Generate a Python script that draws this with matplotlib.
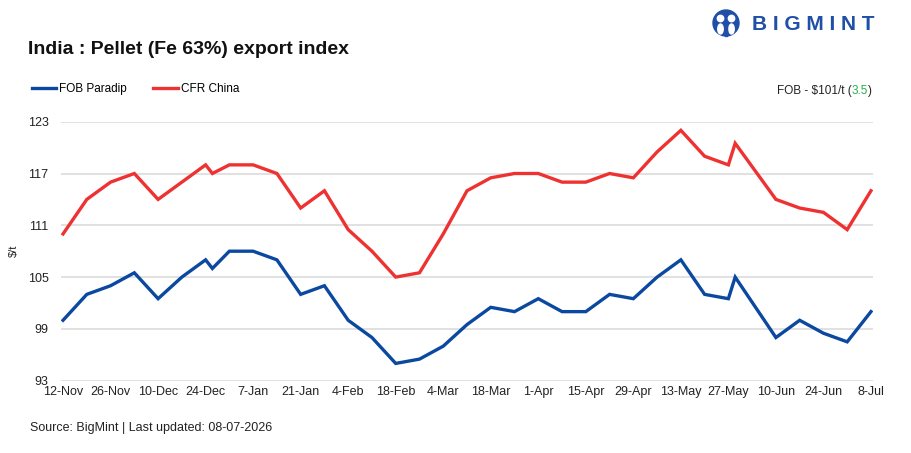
import numpy as np
import pandas as pd
import matplotlib
matplotlib.use("Agg")
import matplotlib.pyplot as plt
import matplotlib.dates as mdates
from matplotlib.patches import Circle, Rectangle, Ellipse

plt.rcParams['font.family'] = ['Liberation Sans', 'DejaVu Sans']

# weekly assessment dates (a couple of mid-week extras)
dates = pd.to_datetime([
    "2025-11-12", "2025-11-19", "2025-11-26", "2025-12-03", "2025-12-10",
    "2025-12-17", "2025-12-24", "2025-12-26", "2025-12-31", "2026-01-07",
    "2026-01-14", "2026-01-21", "2026-01-28", "2026-02-04", "2026-02-11",
    "2026-02-18", "2026-02-25", "2026-03-04", "2026-03-11", "2026-03-18",
    "2026-03-25", "2026-04-01", "2026-04-08", "2026-04-15", "2026-04-22",
    "2026-04-29", "2026-05-06", "2026-05-13", "2026-05-20", "2026-05-27",
    "2026-05-29", "2026-06-10", "2026-06-17", "2026-06-24",
    "2026-07-01", "2026-07-08"])

fob_paradip = [100, 103, 104, 105.5, 102.5, 105, 107, 106, 108, 108,
               107, 103, 104, 100, 98, 95, 95.5, 97, 99.5, 101.5,
               101, 102.5, 101, 101, 103, 102.5, 105, 107, 103, 102.5,
               105, 98, 100, 98.5, 97.5, 101]

cfr_china = [110, 114, 116, 117, 114, 116, 118, 117, 118, 118,
             117, 113, 115, 110.5, 108, 105, 105.5, 110, 115, 116.5,
             117, 117, 116, 116, 117, 116.5, 119.5, 122, 119, 118,
             120.5, 114, 113, 112.5, 110.5, 115]

y_ticks = [93, 99, 105, 111, 117, 123]
x_ticks = pd.date_range("2025-11-12", "2026-07-08", freq="14D")

BLUE = "#0b48a0"
RED = "#ee3231"
GREEN = "#22b04b"
LOGO = "#1f4fa6"
TXT = "#222222"

W, H = 911, 453
fig = plt.figure(figsize=(W / 100, H / 100), dpi=100)

# plot area in pixel terms
left, right, top, bottom = 61, 873, 121.7, 380.7
ax = fig.add_axes([left / W, 1 - bottom / H, (right - left) / W, (bottom - top) / H])

ax.plot(dates, fob_paradip, color=BLUE, lw=2.4, solid_joinstyle='miter', label="FOB Paradip", zorder=3)
ax.plot(dates, cfr_china, color=RED, lw=2.4, solid_joinstyle='miter', label="CFR China", zorder=3)

ax.set_ylim(93, 123)
ax.set_yticks(y_ticks)
ax.set_xlim(dates[0] - pd.Timedelta(days=0.6), dates[-1] + pd.Timedelta(days=0.6))
ax.set_xticks(x_ticks)
ax.xaxis.set_major_formatter(mdates.DateFormatter("%-d-%b"))
ax.grid(axis='y', color="#d9d9d9", lw=1.1)
ax.set_axisbelow(True)
for s in ax.spines.values():
    s.set_visible(False)
ax.tick_params(axis='both', length=0, labelsize=9, colors=TXT)
ax.tick_params(axis='y', pad=9)
ax.tick_params(axis='x', pad=4)
ax.set_ylabel("$/t", fontsize=8, color=TXT)
ax.yaxis.set_label_coords((19 - left) / (right - left), 0.5)

# legend
fig.legend(loc='center left', bbox_to_anchor=(21 / W, 1 - 89 / H), ncol=2,
           frameon=False, fontsize=8.5, handlelength=2.1, handletextpad=0.25,
           columnspacing=2.2)

fig.text(28 / W, 1 - 50 / H, "India : Pellet (Fe 63%) export index",
         fontsize=14, fontweight='bold', color="#111111", va='center')

# right annotation with green change
ya = 1 - 91 / H
t1 = fig.text(872 / W, ya, ")", fontsize=8.5, ha='right', va='center', color=TXT)
fig.canvas.draw()
r = fig.canvas.get_renderer()
bb = t1.get_window_extent(renderer=r)
t2 = fig.text(bb.x0 / W, ya, "3.5", fontsize=8.5, ha='right', va='center', color=GREEN)
bb2 = t2.get_window_extent(renderer=r)
fig.text(bb2.x0 / W, ya, "FOB - \\$101/t (", fontsize=8.5, ha='right', va='center', color=TXT)

fig.text(30 / W, 1 - 428 / H, "Source: BigMint | Last updated: 08-07-2026",
         fontsize=9, va='center', color=TXT)

# logo
lax = fig.add_axes([706 / W, 1 - 38 / H, 40 / W, 30 / H])
lax.set_xlim(0, 40)
lax.set_ylim(0, 30)
lax.set_aspect('equal')
lax.axis('off')
lax.add_patch(Circle((20, 15), 13, color=LOGO))
lax.add_patch(Circle((14.5, 19.5), 3.2, color='white'))
lax.add_patch(Circle((25.5, 19.5), 3.2, color='white'))
lax.add_patch(Ellipse((14.5, 9), 5.5, 10, color='white'))
lax.add_patch(Ellipse((25.5, 9), 5.5, 10, color='white'))
lax.add_patch(Rectangle((18.8, 2), 2.4, 16, color=LOGO))
fig.text(752 / W, 1 - 25 / H, "B I G M I N T", fontsize=15, fontweight='bold',
         color=LOGO, va='center')

fig.savefig("out.png", dpi=100)
